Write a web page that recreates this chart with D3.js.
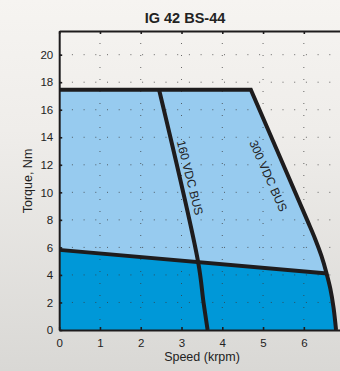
<!DOCTYPE html>
<html>
<head>
<meta charset="utf-8">
<script src="https://cdn.jsdelivr.net/npm/d3@7"></script>
<style>
  body { margin: 0; background: #e8e7e4; }
  svg { display: block; font-family: "Liberation Sans", Arial, sans-serif; }
</style>
</head>
<body>
<svg class="chart" width="340" height="371"></svg>
<script>
const title = "IG 42 BS-44";
const speedTicks = [0, 1, 2, 3, 4, 5, 6];
const torqueTicks = [0, 2, 4, 6, 8, 10, 12, 14, 16, 18, 20];

// peak torque plateau
const peakTorque = 17.45;

// 300 VDC bus limit (speed krpm, torque Nm)
const bus300Speed = [4.70, 6.08, 6.28, 6.43, 6.55, 6.65, 6.73, 6.79];
const bus300Torque = [17.45, 8.0, 6.6, 5.4, 4.2, 3.0, 1.6, 0];

// 160 VDC bus limit
const bus160Speed = [2.45, 3.41, 3.54, 3.64];
const bus160Torque = [17.45, 4.9, 2.0, 0];

// continuous torque line
const contSpeed = [0, 6.58];
const contTorque = [5.82, 4.1];

const svg = d3.select(".chart");
const width = +svg.attr("width");
const height = +svg.attr("height");
const margin = { top: 31, right: -4.6, bottom: 41, left: 59.2 };
const innerWidth = width - margin.left - margin.right;
const innerHeight = height - margin.top - margin.bottom;

const xScale = d3.scaleLinear().domain([0, 7]).range([0, innerWidth]);
const yScale = d3.scaleLinear().domain([0, 21.72]).range([innerHeight, 0]);

// background wash
const defs = svg.append("defs");
const grad = defs.append("linearGradient").attr("id", "bg")
  .attr("x1", 0).attr("y1", 0).attr("x2", 0).attr("y2", 1);
grad.append("stop").attr("offset", "0").attr("stop-color", "#f6f4f1");
grad.append("stop").attr("offset", "0.35").attr("stop-color", "#efedea");
grad.append("stop").attr("offset", "1").attr("stop-color", "#d9d8d5");
svg.append("rect").attr("width", width).attr("height", height).attr("fill", "url(#bg)");

const g = svg.append("g")
  .attr("transform", `translate(${margin.left},${margin.top})`);

const line = d3.line()
  .x((d) => xScale(d[0]))
  .y((d) => yScale(d[1]));

const smooth = d3.line()
  .x((d) => xScale(d[0]))
  .y((d) => yScale(d[1]))
  .curve(d3.curveCatmullRom.alpha(0.5));

const bus300 = bus300Speed.map((s, i) => [s, bus300Torque[i]]);
const bus160 = bus160Speed.map((s, i) => [s, bus160Torque[i]]);

// envelope: plateau + 300V curve
const outline = `M${xScale(0)},${yScale(0)}L${xScale(0)},${yScale(peakTorque)}` +
  smooth(bus300).replace(/^M/, "L") + "Z";

defs.append("clipPath").attr("id", "env")
  .append("path").attr("d", outline);

g.append("path").attr("d", outline).attr("fill", "#97cbef");

// continuous region, extended then clipped to envelope
const slope = (contTorque[1] - contTorque[0]) / (contSpeed[1] - contSpeed[0]);
const contEnd = contTorque[0] + slope * 7.5;
g.append("path")
  .attr("clip-path", "url(#env)")
  .attr("d", line([[0, 0], [0, contTorque[0]], [7.5, contEnd], [7.5, 0]]) + "Z")
  .attr("fill", "#0098d8");

// dotted grid
g.selectAll(".hgrid").data(torqueTicks.filter((d) => d > 0)).enter()
  .append("line").attr("class", "hgrid")
  .attr("x1", 0).attr("x2", innerWidth)
  .attr("y1", (d) => yScale(d)).attr("y2", (d) => yScale(d))
  .attr("stroke", "#3a3a3a").attr("stroke-opacity", 0.75)
  .attr("stroke-width", 1).attr("stroke-dasharray", "1,10.7")
  .attr("stroke-dashoffset", -1);

g.selectAll(".vgrid").data(speedTicks.filter((d) => d > 0)).enter()
  .append("line").attr("class", "vgrid")
  .attr("y1", 0).attr("y2", innerHeight)
  .attr("x1", (d) => xScale(d)).attr("x2", (d) => xScale(d))
  .attr("stroke", "#3a3a3a").attr("stroke-opacity", 0.75)
  .attr("stroke-width", 1).attr("stroke-dasharray", "1,11");

// limit lines
const ink = "#1e1c1d";
g.append("path")
  .attr("d", `M${xScale(0)},${yScale(peakTorque)}` + smooth(bus300).replace(/^M/, "L"))
  .attr("fill", "none").attr("stroke", ink).attr("stroke-width", 4)
  .attr("stroke-linejoin", "miter");

g.append("path")
  .attr("d", smooth(bus160))
  .attr("fill", "none").attr("stroke", ink).attr("stroke-width", 4);

g.append("path")
  .attr("d", line(contSpeed.map((s, i) => [s, contTorque[i]])))
  .attr("fill", "none").attr("stroke", ink).attr("stroke-width", 4);

// bus labels
g.append("text")
  .attr("transform", `translate(${xScale(3.21)},${yScale(11.07)}) rotate(76)`)
  .attr("text-anchor", "middle").attr("dy", "0.35em")
  .attr("font-size", 12).attr("fill", "#222")
  .text("160 VDC BUS");

g.append("text")
  .attr("transform", `translate(${xScale(5.13)},${yScale(11.2)}) rotate(66)`)
  .attr("text-anchor", "middle").attr("dy", "0.35em")
  .attr("font-size", 12).attr("fill", "#222")
  .text("300 VDC BUS");

// axes
g.append("g")
  .attr("transform", `translate(0,${innerHeight})`)
  .call(d3.axisBottom(xScale).tickValues(speedTicks).tickFormat(d3.format("d"))
    .tickSizeInner(-3).tickSizeOuter(0).tickPadding(8.5));

g.append("g")
  .call(d3.axisLeft(yScale).tickValues(torqueTicks).tickFormat(d3.format("d"))
    .tickSizeInner(-3).tickSizeOuter(0).tickPadding(6));

g.append("g").attr("class", "bare")
  .call(d3.axisTop(xScale).tickValues(speedTicks).tickSizeInner(-3).tickSizeOuter(0));

g.append("g").attr("class", "bare")
  .attr("transform", `translate(${innerWidth},0)`)
  .call(d3.axisRight(yScale).tickValues(torqueTicks).tickSizeInner(-3).tickSizeOuter(0));

g.selectAll(".bare text").remove();
g.selectAll(".domain").attr("stroke", ink).attr("stroke-width", 2);
g.selectAll(".tick line").attr("stroke", ink).attr("stroke-width", 1.6);
g.selectAll(".tick text")
  .attr("font-family", "'Liberation Sans', Arial, sans-serif")
  .attr("font-size", 11.5).attr("fill", "#222");

// titles
svg.append("text")
  .attr("x", 185).attr("y", 23)
  .attr("text-anchor", "middle")
  .attr("font-size", 14.5).attr("font-weight", "bold").attr("fill", "#222")
  .text(title);

svg.append("text")
  .attr("x", 202).attr("y", 361)
  .attr("text-anchor", "middle")
  .attr("font-size", 12.5).attr("fill", "#222")
  .text("Speed (krpm)");

svg.append("text")
  .attr("transform", "translate(32,181) rotate(-90)")
  .attr("text-anchor", "middle")
  .attr("font-size", 12.5).attr("fill", "#222")
  .text("Torque, Nm");
</script>
</body>
</html>
